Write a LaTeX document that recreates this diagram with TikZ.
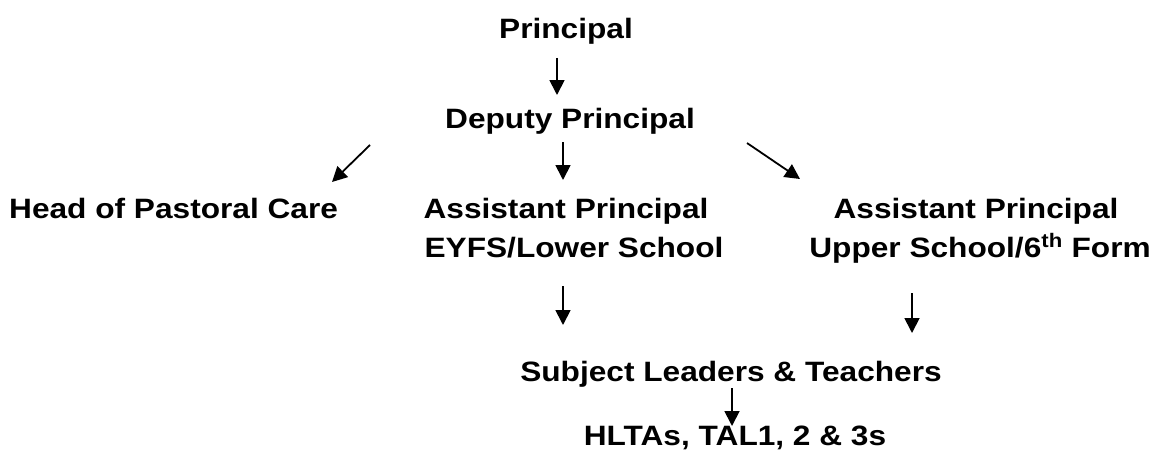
\documentclass[tikz,border=0pt]{standalone}
\usepackage{fontspec}
\setmainfont{Liberation Sans}[FakeStretch=1.13]
\usetikzlibrary{arrows.meta}
\begin{document}
\begin{tikzpicture}[x=1pt,y=-1pt,
  lbl/.style={inner sep=0pt,anchor=base,font=\bfseries\fontsize{28}{34}\selectfont},
  arr/.style={line width=1.8pt,-{Triangle[length=15pt,width=15pt]}}]
\useasboundingbox[fill=white] (0,0) rectangle (1156,460);
\node[lbl] (p) at (566,38) {Principal};
\node[lbl] (dp) at (570,128) {Deputy Principal};
\node[lbl,anchor=base west] (hpc) at (9,218) {Head of Pastoral Care};
\node[lbl] (apl1) at (566,218) {Assistant Principal};
\node[lbl] (apl2) at (574,257) {EYFS/Lower School};
\node[lbl] (apr1) at (976,218) {Assistant Principal};
\node[lbl] (apr2) at (980,257) {Upper School/6\textsuperscript{th} Form};
\node[lbl] (slt) at (731,381) {Subject Leaders \& Teachers};
\node[lbl] (hl) at (735,445) {HLTAs, TAL1, 2 \& 3s};
\coordinate (a1s) at (557,58);  \coordinate (a1e) at (557,95);
\coordinate (a2s) at (370,145); \coordinate (a2e) at (332,182);
\coordinate (a3s) at (563,142); \coordinate (a3e) at (563,180);
\coordinate (a4s) at (747,143); \coordinate (a4e) at (800,179);
\coordinate (a5s) at (563,286); \coordinate (a5e) at (563,325);
\coordinate (a6s) at (912,293); \coordinate (a6e) at (912,333);
\coordinate (a7s) at (732,388); \coordinate (a7e) at (732,426);
\draw[arr] (a1s) -- (a1e);
\draw[arr] (a2s) -- (a2e);
\draw[arr] (a3s) -- (a3e);
\draw[arr] (a4s) -- (a4e);
\draw[arr] (a5s) -- (a5e);
\draw[arr] (a6s) -- (a6e);
\draw[arr] (a7s) -- (a7e);
\end{tikzpicture}
\end{document}
